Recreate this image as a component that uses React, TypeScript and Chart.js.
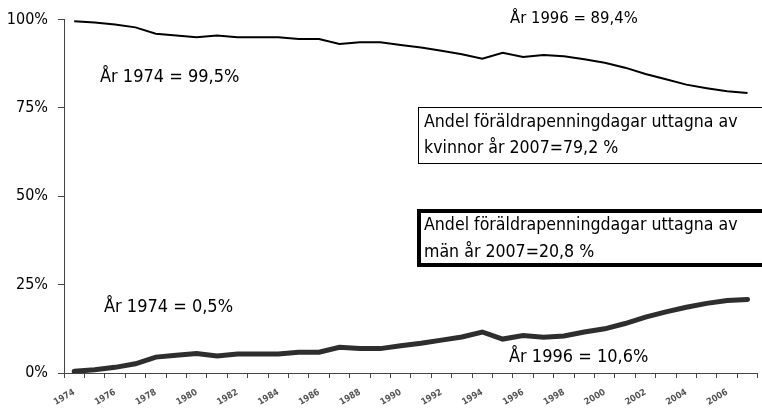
import React, { useEffect, useRef } from "react";
import { Chart, registerables } from "chart.js";

Chart.register(...registerables);

const years: string[] = [
  "1974","1975","1976","1977","1978","1979","1980","1981","1982","1983",
  "1984","1985","1986","1987","1988","1989","1990","1991","1992","1993",
  "1994","1995","1996","1997","1998","1999","2000","2001","2002","2003",
  "2004","2005","2006","2007",
];

const women: number[] = [
  99.5, 99.2, 98.6, 97.8, 96.0, 95.5, 95.0, 95.5, 95.0, 95.0,
  95.0, 94.5, 94.5, 93.1, 93.6, 93.6, 92.8, 92.1, 91.2, 90.2,
  88.9, 90.6, 89.4, 90.0, 89.6, 88.8, 87.8, 86.4, 84.6, 83.1,
  81.6, 80.6, 79.7, 79.2,
];

const men: number[] = [
  0.5, 0.9, 1.6, 2.6, 4.5, 5.0, 5.5, 4.8, 5.4, 5.4,
  5.4, 5.9, 5.9, 7.3, 6.9, 6.9, 7.7, 8.4, 9.3, 10.2,
  11.6, 9.6, 10.6, 10.1, 10.5, 11.6, 12.5, 14.0, 15.8, 17.3,
  18.6, 19.7, 20.5, 20.8,
];

const yTicks: number[] = [0, 25, 50, 75, 100];

const FONT = '"Liberation Sans Narrow", "DejaVu Sans Condensed", "Roboto", sans-serif';

const annotationPlugin = {
  id: "annots",
  afterDraw(chart: any) {
    const ctx: CanvasRenderingContext2D = chart.ctx;
    ctx.save();
    ctx.fillStyle = "#000";
    ctx.textBaseline = "middle";
    ctx.textAlign = "left";
    ctx.font = `16.5px ${FONT}`;
    ctx.fillText("År 1996 = 89,4%", 510, 19);
    ctx.font = `18px ${FONT}`;
    ctx.fillText("År 1974 = 99,5%", 100, 77);
    ctx.fillText("År 1974 = 0,5%", 104, 307);
    ctx.fillText("År 1996 = 10,6%", 509, 357);

    // Box 1
    ctx.fillStyle = "#fff";
    ctx.fillRect(418, 107, 360, 56);
    ctx.strokeStyle = "#000";
    ctx.lineWidth = 1;
    ctx.strokeRect(418.5, 107.5, 360, 56);
    // Box 2
    ctx.fillRect(417, 209, 360, 57);
    ctx.lineWidth = 4;
    ctx.strokeRect(419, 211, 360, 54);

    ctx.fillStyle = "#000";
    ctx.font = `17.6px ${FONT}`;
    ctx.fillText("Andel föräldrapenningdagar uttagna av", 424, 122);
    ctx.fillText("kvinnor år 2007=79,2 %", 424, 148);
    ctx.fillText("Andel föräldrapenningdagar uttagna av", 424, 225);
    ctx.fillText("män år 2007=20,8 %", 424, 252);
    ctx.restore();
  },
};

export default function App() {
  const ref = useRef<HTMLCanvasElement | null>(null);
  useEffect(() => {
    document.body.style.margin = "0";
    const canvas = ref.current!;
    const chart = new Chart(canvas, {
      type: "line",
      data: {
        labels: years,
        datasets: [
          {
            label: "Kvinnor",
            data: women,
            borderColor: "#000",
            borderWidth: 2,
            pointRadius: 0,
            tension: 0,
            fill: false,
          },
          {
            label: "Män",
            data: men,
            borderColor: "#2e2e2e",
            borderWidth: 5,
            pointRadius: 0,
            tension: 0,
            fill: false,
            borderCapStyle: "round",
          },
        ],
      },
      options: {
        animation: false,
        responsive: false,
        maintainAspectRatio: false,
        layout: { padding: { top: 6, right: 4, left: 0, bottom: 0 } },
        plugins: {
          legend: { display: false },
          tooltip: { enabled: false },
        },
        scales: {
          x: {
            type: "category",
            offset: true,
            grid: {
              display: true,
              drawOnChartArea: false,
              drawTicks: true,
              tickLength: 5,
              color: "#444",
              offset: true,
            },
            border: { display: true, color: "#444", width: 1 },
            ticks: {
              autoSkip: false,
              maxRotation: 30,
              minRotation: 30,
              color: "#555",
              font: { size: 9, family: FONT, weight: "bold" },
              padding: 9,
              callback: (_v: any, i: number) => (i % 2 === 0 ? years[i] : ""),
            },
            afterFit: (scale: any) => {
              scale.height = 40;
            },
          },
          y: {
            min: 0,
            max: 100,
            afterBuildTicks: (scale: any) => {
              scale.ticks = yTicks.map((v) => ({ value: v }));
            },
            grid: {
              display: true,
              drawOnChartArea: false,
              drawTicks: true,
              tickLength: 6,
              color: "#444",
            },
            border: { display: true, color: "#444", width: 1 },
            ticks: {
              color: "#000",
              font: { size: 16, family: FONT },
              padding: 10,
              callback: (v: any) => `${v}%`,
            },
            afterFit: (scale: any) => {
              scale.width = 64;
            },
          },
        },
      },
      plugins: [annotationPlugin],
    });
    return () => chart.destroy();
  }, []);
  return (
    <div style={{ width: 762, height: 413 }}>
      <canvas ref={ref} width={762} height={413} style={{ display: "block" }} />
    </div>
  );
}
